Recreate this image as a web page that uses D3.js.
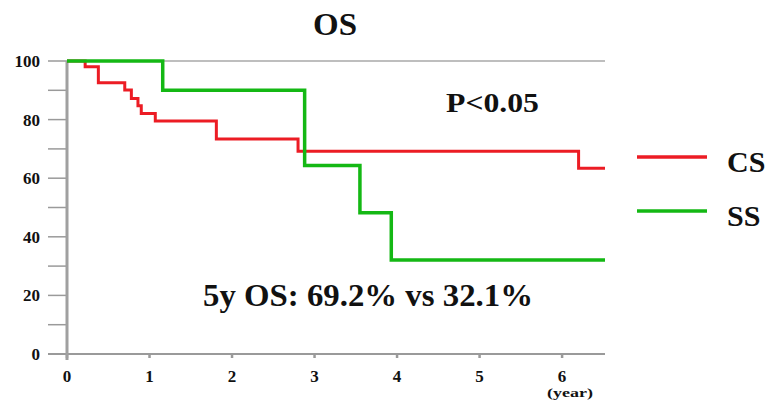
<!DOCTYPE html>
<html>
<head>
<meta charset="utf-8">
<script src="https://cdn.jsdelivr.net/npm/d3@7"></script>
<style>
  body { margin: 0; background: #fff; }
  text { font-family: "Liberation Serif", "Times New Roman", serif; font-weight: bold; fill: #111; }
</style>
</head>
<body>
<script>

// survival data
var csTimes = [0, 0.22, 0.38, 0.70, 0.78, 0.86, 0.90, 1.07, 1.81, 2.80, 6.20];
var csSurv  = [100, 98, 92.6, 90.1, 87.2, 84.7, 82.1, 79.5, 73.4, 69.2, 63.4];
var ssTimes = [0, 1.16, 2.88, 3.55, 3.93];
var ssSurv  = [100, 90, 64.3, 48.2, 32.1];
var maxTime = 6.52;

var xTicks = [0, 1, 2, 3, 4, 5, 6];
var yMajor = [0, 20, 40, 60, 80, 100];
var yMinor = [10, 30, 50, 70, 90];
var seriesNames = ["CS", "SS"];
var seriesColors = ["#ec1c24", "#14b814"];

var width = 769, height = 401;

var x = d3.scaleLinear().domain([0, maxTime]).range([67, 605]);
var y = d3.scaleLinear().domain([0, 100]).range([354, 61]);

var svg = d3.select("body").append("svg")
    .attr("width", width)
    .attr("height", height);

// top border line
svg.append("line")
    .attr("x1", x(0)).attr("x2", x(maxTime))
    .attr("y1", y(100)).attr("y2", y(100))
    .attr("stroke", "#a8a8a8").attr("stroke-width", 1.5);

// y ticks
svg.selectAll(".ytick")
    .data(yMajor.concat(yMinor))
    .enter().append("line")
    .attr("x1", 48).attr("x2", x(0))
    .attr("y1", function(d){ return y(d); })
    .attr("y2", function(d){ return y(d); })
    .attr("stroke", "#9a9a9a").attr("stroke-width", 1.5);

svg.selectAll(".ylab")
    .data(yMajor)
    .enter().append("text")
    .attr("x", 40)
    .attr("y", function(d){ return y(d) + 6; })
    .attr("text-anchor", "end")
    .attr("font-size", "17px")
    .text(function(d){ return d; });

// x axis
svg.append("line")
    .attr("x1", 48).attr("x2", x(maxTime))
    .attr("y1", y(0)).attr("y2", y(0))
    .attr("stroke", "#9a9a9a").attr("stroke-width", 2);

svg.selectAll(".xtick")
    .data(xTicks)
    .enter().append("line")
    .attr("x1", function(d){ return x(d); })
    .attr("x2", function(d){ return x(d); })
    .attr("y1", y(0)).attr("y2", y(0) + 4)
    .attr("stroke", "#9a9a9a").attr("stroke-width", 2.5);

svg.selectAll(".xlab")
    .data(xTicks)
    .enter().append("text")
    .attr("x", function(d){ return x(d); })
    .attr("y", 382)
    .attr("text-anchor", "middle")
    .attr("font-size", "17px")
    .text(function(d){ return d; });

svg.append("text")
    .attr("x", 547).attr("y", 397)
    .attr("font-size", "13px")
    .attr("textLength", 46)
    .attr("lengthAdjust", "spacingAndGlyphs")
    .text("(year)");

// y axis line
svg.append("line")
    .attr("x1", x(0)).attr("x2", x(0))
    .attr("y1", y(100)).attr("y2", y(0) + 6)
    .attr("stroke", "#a0a0a0").attr("stroke-width", 3);

// curves
var line = d3.line()
    .x(function(d){ return x(d[0]); })
    .y(function(d){ return y(d[1]); })
    .curve(d3.curveStepAfter);

function curvePoints(times, surv){
    var pts = times.map(function(t, i){ return [t, surv[i]]; });
    pts.push([maxTime, surv[surv.length - 1]]);
    return pts;
}

svg.append("path")
    .attr("d", line(curvePoints(csTimes, csSurv)))
    .attr("fill", "none")
    .attr("stroke", seriesColors[0])
    .attr("stroke-width", 3);

svg.append("path")
    .attr("d", line(curvePoints(ssTimes, ssSurv)))
    .attr("fill", "none")
    .attr("stroke", seriesColors[1])
    .attr("stroke-width", 3.5);

// texts
svg.append("text")
    .attr("x", 313).attr("y", 35)
    .attr("font-size", "31px")
    .attr("textLength", 44)
    .attr("lengthAdjust", "spacingAndGlyphs")
    .text("OS");

svg.append("text")
    .attr("x", 446).attr("y", 112)
    .attr("font-size", "27px")
    .attr("textLength", 93)
    .attr("lengthAdjust", "spacingAndGlyphs")
    .text("P<0.05");

svg.append("text")
    .attr("x", 203).attr("y", 306)
    .attr("font-size", "32px")
    .attr("textLength", 330)
    .attr("lengthAdjust", "spacingAndGlyphs")
    .text("5y OS: 69.2% vs 32.1%");

// legend
var legend = svg.selectAll(".legend")
    .data(seriesNames)
    .enter().append("g")
    .attr("transform", function(d, i){ return "translate(637," + (157 + i * 54) + ")"; });

legend.append("line")
    .attr("x1", 0).attr("x2", 70)
    .attr("y1", 0).attr("y2", 0)
    .attr("stroke", function(d, i){ return seriesColors[i]; })
    .attr("stroke-width", 3.5);

legend.append("text")
    .attr("x", 90).attr("y", 15)
    .attr("font-size", "30px")
    .text(function(d){ return d; });

</script>
</body>
</html>
